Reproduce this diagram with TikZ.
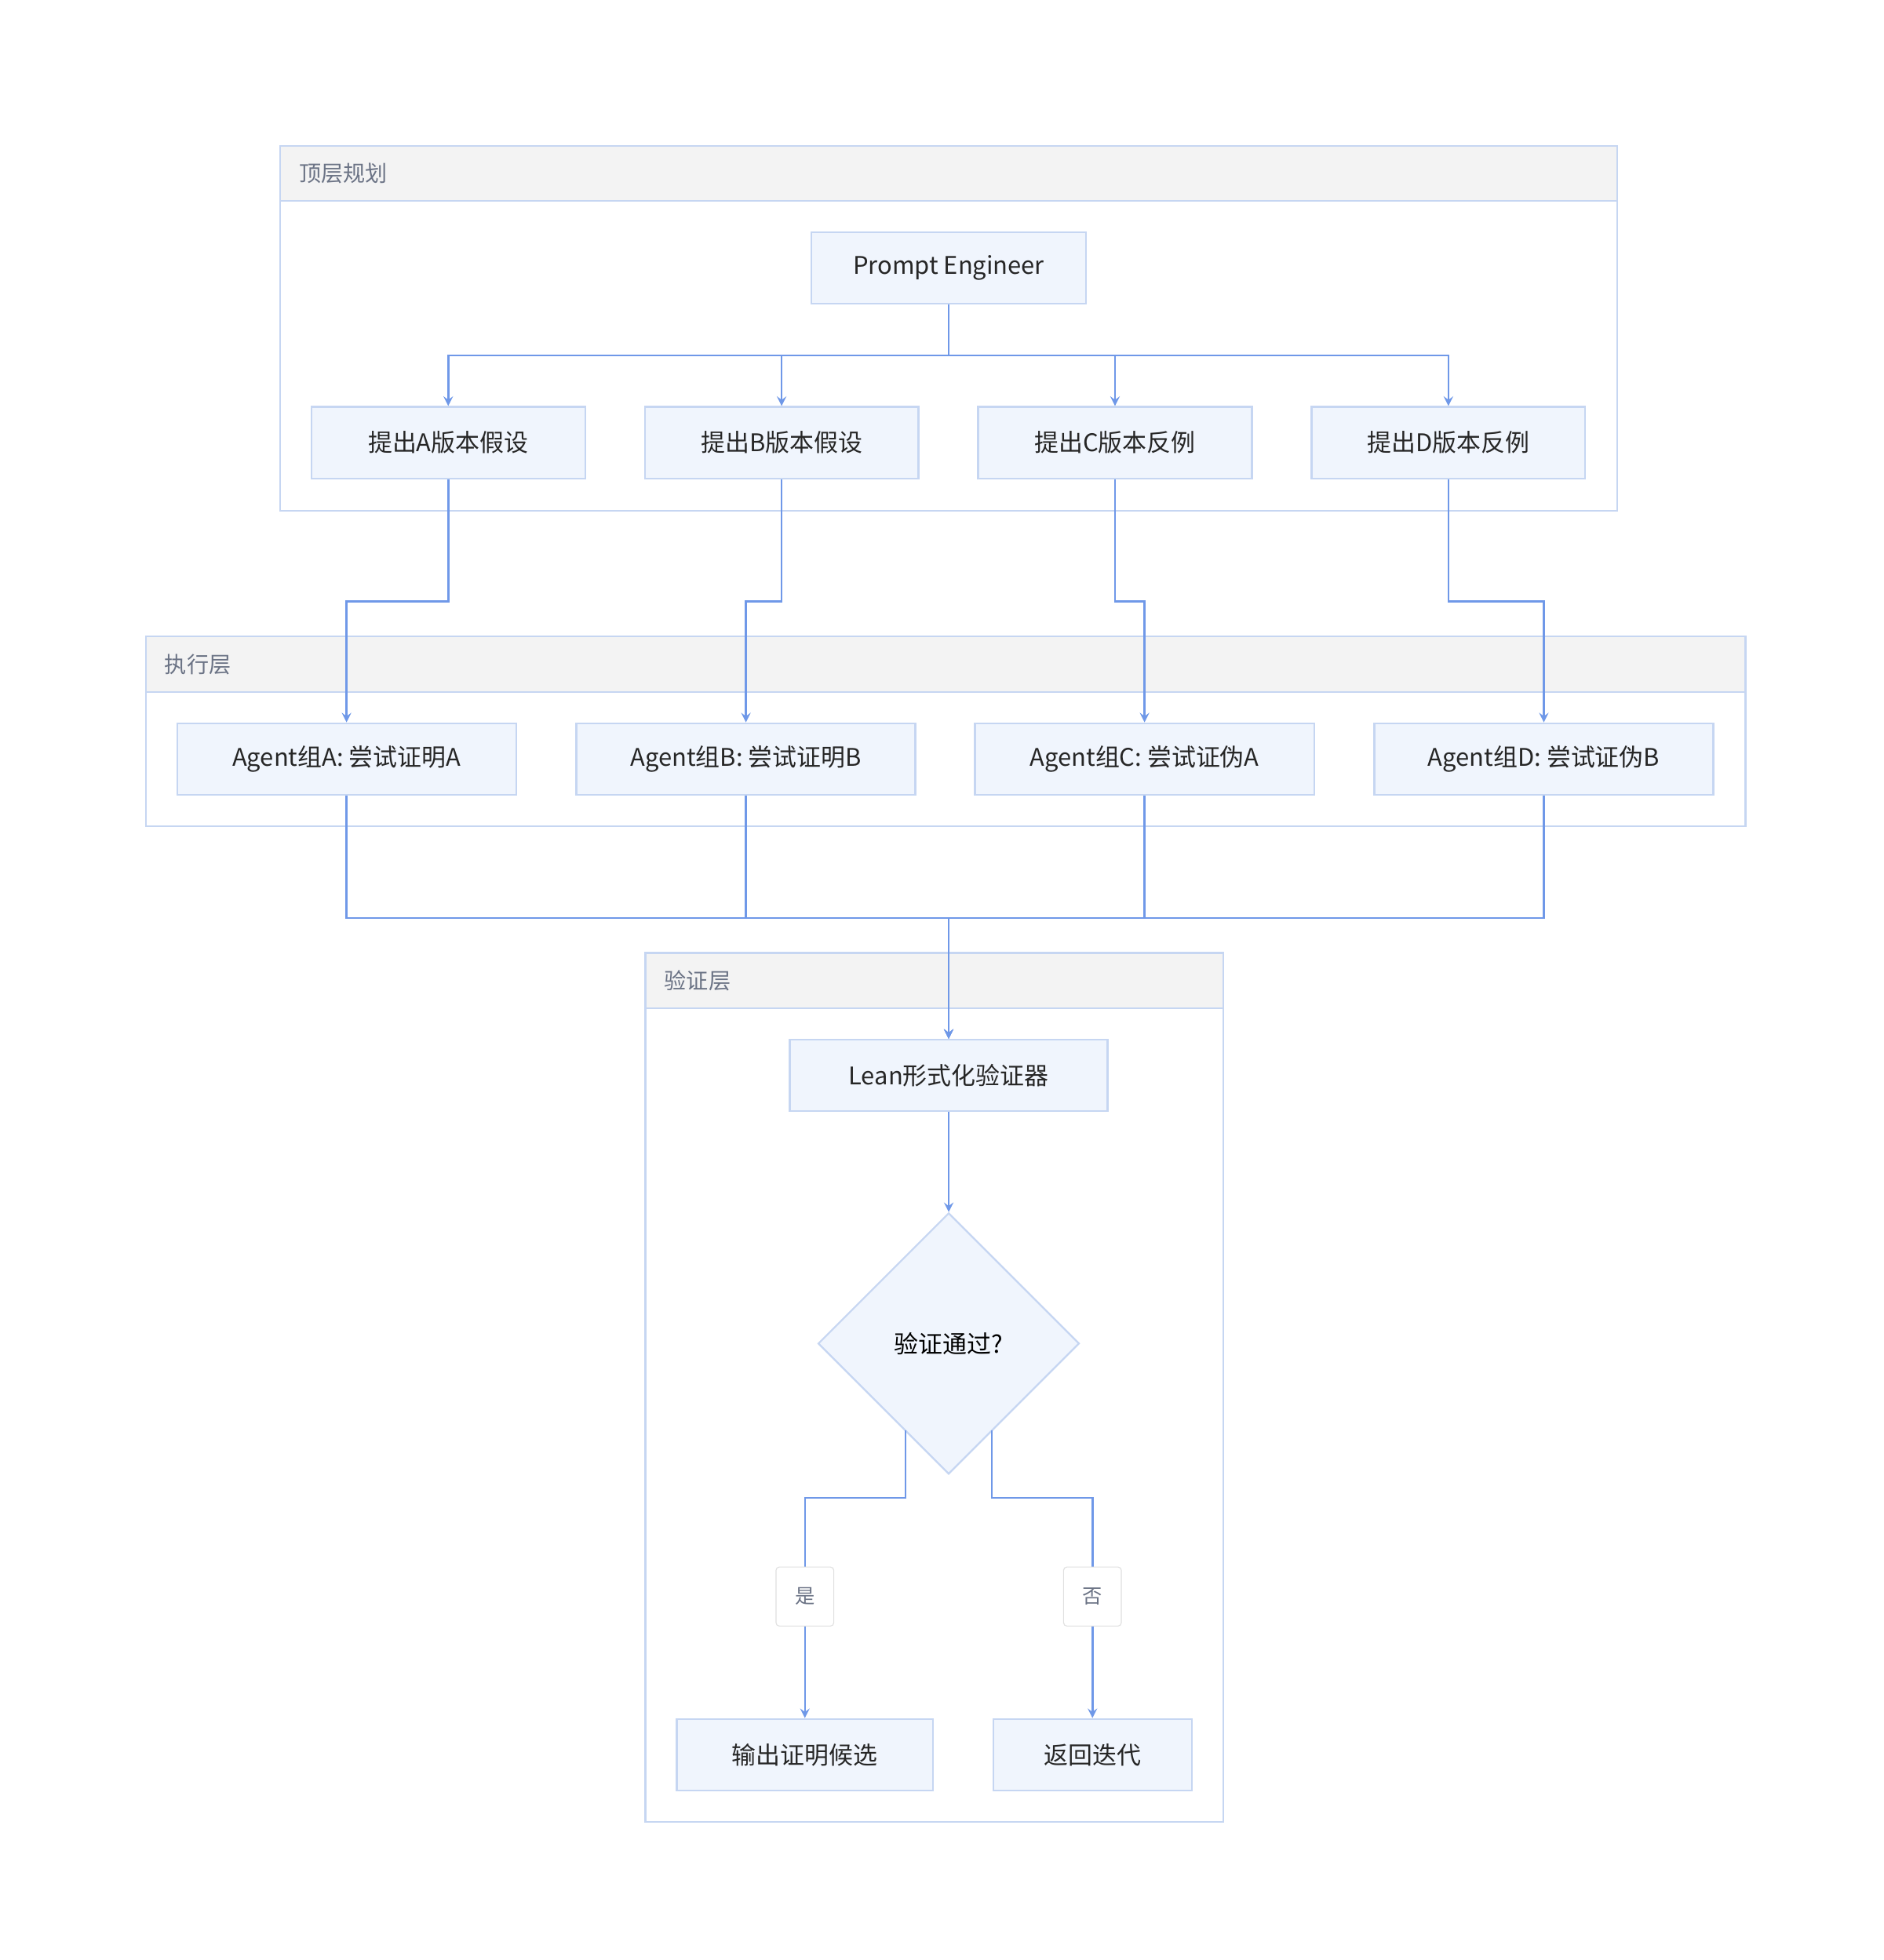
\documentclass[tikz,border=0pt]{standalone}
\usepackage{fontspec}
\setmainfont{Noto Sans CJK SC}
\usetikzlibrary{calc,positioning,arrows,shapes.geometric}
\definecolor{boxfill}{HTML}{F0F5FD}
\definecolor{boxline}{HTML}{C6D6F2}
\definecolor{linkc}{HTML}{6F98E8}
\definecolor{headfill}{HTML}{F3F3F3}
\definecolor{headtext}{HTML}{6B7385}
\begin{document}
\begin{tikzpicture}
          [ x=0.02cm, y=-0.02cm,
            element/.style={
              rectangle,
              draw=boxline,
              fill=boxfill,
              line width=0.8pt,
              minimum height=57*0.02cm,
              inner sep=0pt,
              font=\fontsize{11}{13}\selectfont,
              text=black!85},
            decision/.style={
              diamond,
              draw=boxline,
              fill=boxfill,
              line width=0.8pt,
              minimum width=208*0.02cm,
              minimum height=208*0.02cm,
              inner sep=0pt,
              font=\fontsize{11}{13}\selectfont},
            tag/.style={
              rectangle,
              draw=black!12,
              fill=white,
              rounded corners=1.5pt,
              minimum width=46*0.02cm,
              minimum height=47*0.02cm,
              inner sep=0pt,
              text=headtext,
              font=\fontsize{9}{11}\selectfont},
            cluster/.style={draw=boxline, line width=0.8pt, fill=white},
            header/.style={draw=boxline, line width=0.8pt, fill=headfill},
            headlabel/.style={anchor=west, text=headtext, font=\fontsize{10}{12}\selectfont},
            line/.style={
              draw=linkc,
              line width=0.9pt,
              ->,
              >=stealth,
            },
          ]
          \useasboundingbox (0,0) rectangle (1500,1561);

          % clusters
          \draw[cluster] (223,116) rectangle (1288,407);
          \draw[header] (223,116) rectangle (1288,160);
          \node[headlabel] (topL) at (232,138) {顶层规划};

          \draw[cluster] (116,507) rectangle (1390,658);
          \draw[header] (116,507) rectangle (1390,551);
          \node[headlabel] (execL) at (125,529) {执行层};

          \draw[cluster] (514,759) rectangle (974,1451);
          \draw[header] (514,759) rectangle (974,803);
          \node[headlabel] (verL) at (523,781) {验证层};

          % nodes
          \node (pe) [element, minimum width=219*0.02cm] at (755.5,213.5) {Prompt Engineer};
          \node (hA) [element, minimum width=218*0.02cm] at (357,352.5) {提出A版本假设};
          \node (hB) [element, minimum width=218*0.02cm] at (622.5,352.5) {提出B版本假设};
          \node (hC) [element, minimum width=218*0.02cm] at (888,352.5) {提出C版本反例};
          \node (hD) [element, minimum width=218*0.02cm] at (1153.5,352.5) {提出D版本反例};

          \node (aA) [element, minimum width=270*0.02cm] at (276,604.5) {Agent组A: 尝试证明A};
          \node (aB) [element, minimum width=270*0.02cm] at (594,604.5) {Agent组B: 尝试证明B};
          \node (aC) [element, minimum width=270*0.02cm] at (911.5,604.5) {Agent组C: 尝试证伪A};
          \node (aD) [element, minimum width=270*0.02cm] at (1229.5,604.5) {Agent组D: 尝试证伪B};

          \node (lean) [element, minimum width=253*0.02cm] at (755.5,856.5) {Lean形式化验证器};
          \node (check) [decision] at (755.5,1070) {验证通过?};
          \node (out) [element, minimum width=204*0.02cm] at (641,1397.5) {输出证明候选};
          \node (back) [element, minimum width=158*0.02cm] at (870,1397.5) {返回迭代};

          \coordinate (yesOut) at (721,1139);
          \coordinate (noOut) at (790,1139);

          % connectors
          \foreach \h in {hA,hB,hC,hD}
            \draw[line] (pe.south) |- (\h.north |- 0,283) -- (\h.north);

          \draw[line] (hA.south) -- (hA.south |- 0,479) -| (aA.north);
          \draw[line] (hB.south) -- (hB.south |- 0,479) -| (aB.north);
          \draw[line] (hC.south) -- (hC.south |- 0,479) -| (aC.north);
          \draw[line] (hD.south) -- (hD.south |- 0,479) -| (aD.north);

          \foreach \a in {aA,aB,aC,aD}
            \draw[line] (\a.south) |- (lean.north |- 0,731) -- (lean.north);

          \draw[line] (lean.south) -- (check.north);

          \draw[line] (yesOut) |- (out.north |- 0,1193) -- (out.north);
          \draw[line] (noOut) |- (back.north |- 0,1193) -- (back.north);
          \node (yes) [tag] at (641,1271.5) {是};
          \node (no) [tag] at (870,1271.5) {否};
        \end{tikzpicture}
\end{document}
